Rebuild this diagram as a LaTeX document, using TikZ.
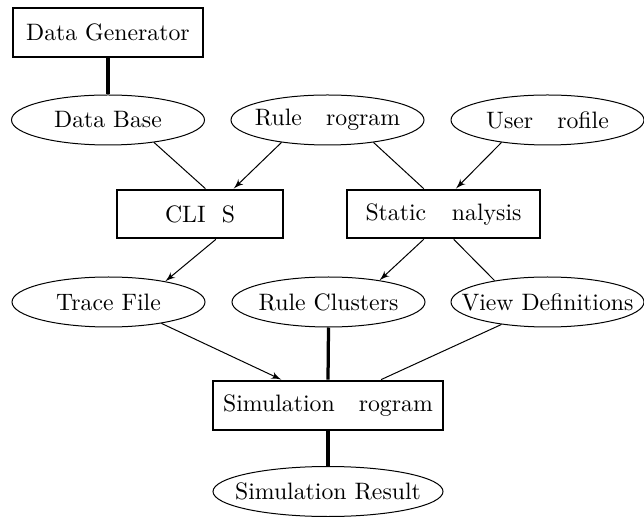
\documentclass[tikz,border=0pt]{standalone}
\usepackage{tikz}
\usetikzlibrary{arrows,positioning,shapes.geometric}

\newcommand{\lbl}[1]{\makebox[0pt][c]{#1}}

\begin{document}
\begin{tikzpicture}[x=0.4pt,y=-0.4pt]
\tikzset{
    box/.style={rectangle,draw,line width=1.1pt,inner sep=0pt,font=\fontsize{9.5}{11}\selectfont},
    oval/.style={ellipse,draw,line width=0.4pt,inner sep=0pt,minimum width=77.2pt,minimum height=20pt,font=\fontsize{9.5}{11}\selectfont},
    thin/.style={-,line width=0.4pt},
    arr/.style={->,>=latex',line width=0.4pt},
    heavy/.style={-,line width=1.3pt}
}
\useasboundingbox (0,0) rectangle (644,517);
  % vertices
\node[box,minimum width=76pt,minimum height=19.6pt] (gen) at (108,32.5) {Data Generator};
\node[oval] (db) at (108,120) {\lbl{Data Base}};
\node[oval] (rp) at (327.5,120) {\lbl{Rule \phantom{P}rogram}};
\node[oval] (up) at (547.5,120) {\lbl{User \phantom{P}rofile}};
\node[box,minimum width=66.4pt,minimum height=19.2pt] (clips) at (200,214) {CLI\phantom{P}S};
\node[box,minimum width=77.2pt,minimum height=19.2pt] (sa) at (443.5,214) {Static \phantom{A}nalysis};
\node[oval] (tf) at (108.5,302) {\lbl{Trace File}};
\node[oval] (rc) at (328.5,302) {\lbl{Rule Clusters}};
\node[oval] (vd) at (547.5,302) {\lbl{View Definitions}};
\node[box,minimum width=92pt,minimum height=19.6pt] (sp) at (328,405.5) {Simulation \phantom{P}rogram};
\node[oval,minimum width=92pt] (sr) at (328,491.5) {\lbl{Simulation Result}};
% edges
\path
(gen.south) edge[heavy] (db.north)
(db.334) edge[thin] (clips.78)
(rp.206) edge[arr] (clips.37)
(rp.334) edge[thin] (sa.128)
(up.206) edge[arr] (sa.64)
(clips.302) edge[arr] (tf.20)
(sa.232) edge[arr] (rc.23)
(sa.292) edge[thin] (vd.158)
(tf.338) edge[arr] (sp.151)
(rc.south) edge[heavy] (sp.north)
(vd.206) edge[thin] (sp.26)
(sp.south) edge[heavy] (sr.north)
;
\end{tikzpicture}
\end{document}
